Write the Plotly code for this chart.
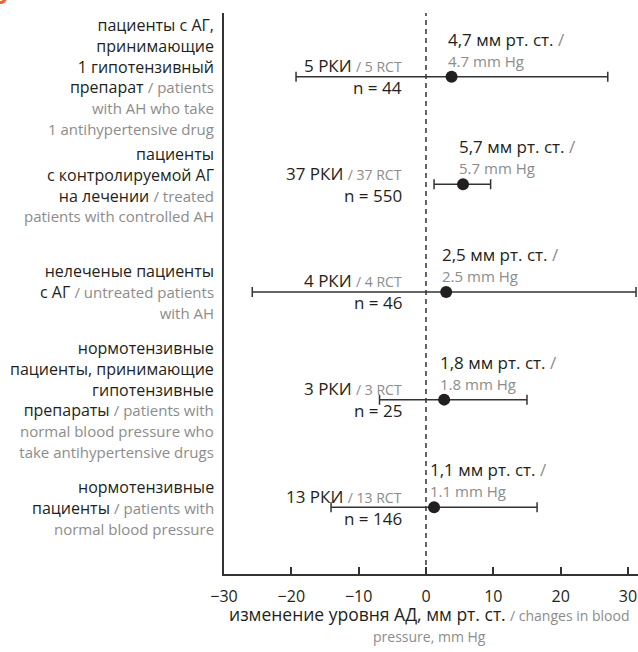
import plotly.graph_objects as go

# ---- data ----
groups_ru = [
    "пациенты с АГ,<br>принимающие<br>1 гипотензивный<br>препарат",
    "пациенты<br>с контролируемой АГ<br>на лечении",
    "нелеченые пациенты<br>с АГ",
    "нормотензивные<br>пациенты, принимающие<br>гипотензивные<br>препараты",
    "нормотензивные<br>пациенты",
]
groups_en = [
    "/ patients<br>with AH who take<br>1 antihypertensive drug",
    "/ treated<br>patients with controlled AH",
    "/ untreated patients<br>with AH",
    "/ patients with<br>normal blood pressure who<br>take antihypertensive drugs",
    "/ patients with<br>normal blood pressure",
]
rows = [5, 4, 3, 2, 1]
mean_change = [3.8, 5.5, 3.0, 2.7, 1.2]
ci_low = [-19.3, 1.2, -25.8, -6.9, -14.1]
ci_high = [27.0, 9.6, 31.2, 15.0, 16.5]
rct_counts = [5, 37, 4, 3, 13]
n_patients = [44, 550, 46, 25, 146]
value_ru = ["4,7", "5,7", "2,5", "1,8", "1,1"]
value_en = ["4.7", "5.7", "2.5", "1.8", "1.1"]
x_ticks = [-30, -20, -10, 0, 10, 20, 30]

DARK = "#231f20"
GRAY = "#8c8c8c"
FONT = "Open Sans"
X_RANGE = [-30, 31.49]

fig = go.Figure()
fig.add_trace(go.Scatter(
    x=mean_change, y=rows, mode="markers",
    marker=dict(size=12, color=DARK),
    error_x=dict(type="data", symmetric=False,
                 array=[h - m for h, m in zip(ci_high, mean_change)],
                 arrayminus=[m - l for m, l in zip(mean_change, ci_low)],
                 color="#333333", thickness=1.5, width=5),
    cliponaxis=False, showlegend=False, hoverinfo="skip",
))
# invisible trace to carry the overlay axis with inward ticks
fig.add_trace(go.Scatter(x=[x_ticks[0]], y=[rows[0]], xaxis="x2", mode="markers",
                         marker=dict(opacity=0), showlegend=False, hoverinfo="skip"))

fig.add_shape(type="line", xref="x", yref="paper", x0=0, x1=0, y0=0, y1=1,
              line=dict(color="#333333", width=1.5, dash="5px,4px"), layer="below")


def gray(s, size):
    return f"<span style='color:{GRAY};font-size:{size}px'>{s}</span>"


def en_lines(s, size=15):
    return "<br>".join(gray(p, size) for p in s.split("<br>"))


ann = []
for i, r in enumerate(rows):
    ru_lines = groups_ru[i].split("<br>")
    en_parts = groups_en[i].split("<br>")
    txt = "<br>".join(ru_lines[:-1] + [ru_lines[-1] + " " + en_lines(en_parts[0])])
    if len(en_parts) > 1:
        txt += "<br>" + en_lines("<br>".join(en_parts[1:]))
    ann.append(dict(xref="paper", yref="y", x=0, y=r, xshift=-8,
                    xanchor="right", yanchor="middle", align="right",
                    text=txt, showarrow=False,
                    font=dict(family=FONT, size=16, color=DARK)))
    ann.append(dict(xref="x", yref="y", x=0, y=r, xshift=-22, yshift=11,
                    xanchor="right", yanchor="middle", align="right",
                    text=f"{rct_counts[i]} РКИ " + gray(f"/ {rct_counts[i]} RCT", 14),
                    showarrow=False, font=dict(family=FONT, size=17, color=DARK)))
    ann.append(dict(xref="x", yref="y", x=0, y=r, xshift=-22, yshift=-11,
                    xanchor="right", yanchor="middle", align="right",
                    text=f"n = {n_patients[i]}",
                    showarrow=False, font=dict(family=FONT, size=17, color=DARK)))
    ann.append(dict(xref="x", yref="y", x=mean_change[i], y=r, xshift=-6, yshift=4,
                    xanchor="left", yanchor="bottom", align="left",
                    text=f"<span style='font-size:17px'>{value_ru[i]} мм рт. ст. "
                         + gray("/", 17) + "</span><br>"
                         + gray(f"{value_en[i]} mm Hg", 15),
                    showarrow=False, font=dict(family=FONT, size=16, color=DARK)))

ann.append(dict(xref="paper", yref="paper", x=0.496, y=-0.09,
                xanchor="center", yanchor="middle", align="center",
                text="<span style='font-size:17.5px'>изменение уровня АД, мм рт. ст.</span> "
                     + gray("/ changes in blood", 14) + "<br>" + gray("pressure, mm Hg", 14),
                showarrow=False, font=dict(family=FONT, size=16.5, color=DARK)))
ann.append(dict(xref="paper", yref="paper", x=-0.517, y=1.0,
                xanchor="right", yanchor="bottom", text="<b>б</b>", showarrow=False,
                font=dict(family=FONT, size=24, color="#f26522")))

fig.update_layout(
    width=638, height=652,
    margin=dict(l=224, r=0, t=13, b=78),
    paper_bgcolor="white", plot_bgcolor="white",
    annotations=ann,
    font=dict(family=FONT, size=16, color=DARK),
    xaxis=dict(range=X_RANGE, tickvals=x_ticks, ticks="outside", ticklen=7,
               tickcolor="rgba(0,0,0,0)", showline=True, linecolor="#333333",
               linewidth=1.5, showgrid=False, zeroline=False, automargin=False,
               tickfont=dict(family=FONT, size=16, color=DARK)),
    xaxis2=dict(range=X_RANGE, tickvals=x_ticks, ticks="inside", ticklen=7,
                tickwidth=1.5, tickcolor="#333333", overlaying="x", side="bottom",
                anchor="y", showticklabels=False, showline=False, showgrid=False,
                zeroline=False, automargin=False),
    yaxis=dict(range=[0.38, 5.592], showline=True, linecolor="#333333", linewidth=1.5,
               showticklabels=False, ticks="", showgrid=False, zeroline=False),
)

fig.write_html("out.html", config={"displayModeBar": False},
               post_script="document.body.style.margin='0';")
